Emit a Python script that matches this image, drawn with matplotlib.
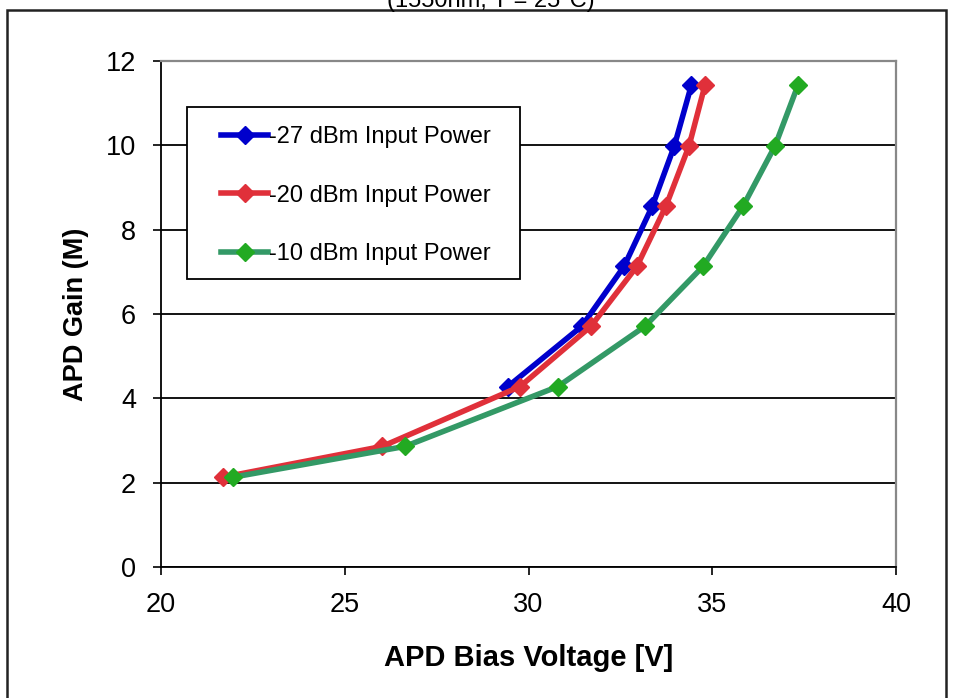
import matplotlib
matplotlib.use('Agg')
import matplotlib.pyplot as plt
from matplotlib.patches import Rectangle

plt.rcParams['font.family'] = ['Liberation Sans', 'DejaVu Sans']

# APD gain vs bias voltage
gain = [2.13, 2.86, 4.28, 5.71, 7.13, 8.56, 9.99, 11.42]

volt_27 = [29.44, 31.45, 32.6, 33.37, 33.97, 34.43]
gain_27 = gain[2:]
volt_20 = [21.69, 26.02, 29.77, 31.7, 32.95, 33.74, 34.37, 34.8]
volt_10 = [21.96, 26.64, 30.8, 33.17, 34.75, 35.84, 36.71, 37.33]

labels = ['-27 dBm Input Power', '-20 dBm Input Power', '-10 dBm Input Power']
line_colors = ['#0000CC', '#E0303A', '#339966']
marker_colors = ['#0000CC', '#E0303A', '#22AA22']

x_ticks = [20, 25, 30, 35, 40]
y_ticks = [0, 2, 4, 6, 8, 10, 12]

fig = plt.figure(figsize=(9.56, 6.98), dpi=100)
W, H = 956, 698
ax = fig.add_axes([161 / W, 1 - 567 / H, 735 / W, 506 / H])

series = [(volt_27, gain_27), (volt_20, gain), (volt_10, gain)]
for (xs, ys), lab, lc, mc in zip(series, labels, line_colors, marker_colors):
    ax.plot(xs, ys, color=lc, lw=4, marker='D', ms=9.5,
            markerfacecolor=mc, markeredgecolor=mc, label=lab, zorder=3)

ax.set_xlim(20, 40)
ax.set_ylim(0, 12)
ax.set_xticks(x_ticks)
ax.set_yticks(y_ticks)
ax.yaxis.grid(True, color='black', lw=1.3)
ax.set_axisbelow(True)
ax.tick_params(labelsize=19.5, direction='out', length=6, width=1.2)
ax.tick_params(axis='x', pad=12)
ax.tick_params(axis='y', pad=12)
for s in ['top', 'right']:
    ax.spines[s].set_color('#888888')
    ax.spines[s].set_linewidth(1.6)
for s in ['left', 'bottom']:
    ax.spines[s].set_linewidth(1.3)

ax.set_xlabel('APD Bias Voltage [V]', fontsize=21, fontweight='bold', labelpad=19)
ax.set_ylabel('APD Gain (M)', fontsize=19.5, fontweight='bold', labelpad=12)

# legend box drawn as its own patch so the padding can differ per side
ax.add_patch(Rectangle(((187 - 161) / 735, (567 - 279) / 506), 333 / 735, 172 / 506,
                       transform=ax.transAxes, facecolor='white', edgecolor='black',
                       lw=1.3, zorder=4.5))
leg = ax.legend(loc='upper left', bbox_to_anchor=((221 - 161) / 735, (567 - 126) / 506),
                fontsize=17, frameon=False, labelspacing=1.55, handlelength=2.0,
                handletextpad=0.05, borderpad=0, borderaxespad=0)
leg.set_zorder(5)

# outer chart frame and clipped title at top
fig.patches.append(Rectangle((7 / W, -0.05), 939 / W, 1.05 - 10 / H,
                             transform=fig.transFigure, fill=False,
                             edgecolor='#222222', lw=1.8))
fig.text(491 / W, 1 - 6.5 / H, '(1550nm, T = 25°C)', ha='center', va='baseline',
         fontsize=17)

fig.savefig('out.png', dpi=100)
